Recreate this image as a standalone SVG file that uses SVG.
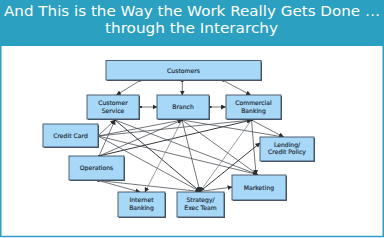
<svg xmlns="http://www.w3.org/2000/svg" width="384" height="238" viewBox="0 0 384 238">
<defs>
<marker id="arr" viewBox="0 0 10 10" refX="9" refY="5" markerUnits="userSpaceOnUse" markerWidth="5" markerHeight="5" orient="auto-start-reverse">
<path d="M0,0 L10,5 L0,10 z" fill="#2a2f35"/>
</marker>
<marker id="dot" viewBox="0 0 4 4" refX="2" refY="2" markerUnits="userSpaceOnUse" markerWidth="2.4" markerHeight="2.4">
<circle cx="2" cy="2" r="2" fill="#2a2f35"/>
</marker>
</defs>
<style>
.title{font-family:"DejaVu Sans",sans-serif;font-size:14px;fill:#ffffff;text-anchor:middle}
.box{fill:#a8d8f8;stroke:#3e5163;stroke-width:0.9}
.sh{fill:#4a5866}
.lbl{font-family:"DejaVu Sans",sans-serif;font-size:6.1px;fill:#1c2833;stroke:#1c2833;stroke-width:0.15;text-anchor:middle}
.c{fill:none;stroke:#43484e;stroke-width:0.75;marker-start:url(#dot);marker-end:url(#arr)}
.d{stroke:#2c3035;stroke-width:0.95}
.l{stroke:#7a7f85}
</style>
<rect x="0" y="0" width="384" height="238" fill="#ffffff"/>
<rect x="0" y="0" width="384" height="46" fill="#2ba0c0"/>
<rect x="0.75" y="45" width="382.5" height="191.5" fill="none" stroke="#2ba0c0" stroke-width="1.5"/>
<text class="title" x="192" y="16" textLength="376" lengthAdjust="spacingAndGlyphs">And This is the Way the Work Really Gets Done …</text>
<text class="title" x="191.5" y="33" textLength="173" lengthAdjust="spacingAndGlyphs">through the Interarchy</text>

<g id="connectors">
<line class="c" x1="140" y1="80.5" x2="116.5" y2="95"/>
<line class="c" x1="182.3" y1="81" x2="182.3" y2="95"/>
<line class="c" x1="223.3" y1="80.5" x2="250.5" y2="95"/>
<line class="c" x1="141" y1="107" x2="157" y2="107"/>
<line class="c" x1="210.5" y1="107" x2="225.5" y2="107"/>
<line class="c" x1="98" y1="136" x2="115" y2="120"/>
<line class="c" x1="99" y1="156" x2="115" y2="120"/>
<line class="c" x1="98" y1="136" x2="182" y2="120"/>
<line class="c" x1="99" y1="156" x2="182" y2="120"/>
<line class="c d" x1="99" y1="156" x2="251.5" y2="120"/>
<line class="c" x1="98" y1="136" x2="251.5" y2="120"/>
<line class="c d" x1="115" y1="120" x2="200" y2="191.5"/>
<line class="c" x1="115" y1="120" x2="257.5" y2="174.5"/>
<line class="c" x1="98" y1="136" x2="200" y2="191.5"/>
<line class="c" x1="98" y1="136" x2="257.5" y2="174.5"/>
<line class="c" x1="98.5" y1="180.5" x2="200" y2="191.5"/>
<line class="c" x1="98.5" y1="180.5" x2="140" y2="192"/>
<line class="c l" x1="182" y1="120" x2="145" y2="192"/>
<line class="c" x1="182" y1="120" x2="200" y2="191.5"/>
<line class="c" x1="182" y1="120" x2="257.5" y2="174.5"/>
<line class="c" x1="182" y1="120" x2="283.5" y2="137"/>
<line class="c" x1="251.5" y1="120" x2="283.5" y2="137"/>
<line class="c l" x1="251.5" y1="120" x2="200" y2="191.5"/>
<line class="c" x1="251.5" y1="120" x2="256" y2="174.5"/>
<line class="c d" x1="200" y1="191.5" x2="260" y2="143"/>
<line class="c" x1="200" y1="191.5" x2="232" y2="187"/>
</g>

<g id="customers"><rect class="sh" x="107" y="61.5" width="155" height="19.5"/><rect class="box" x="106" y="60.5" width="155" height="19.5"/><text class="lbl" x="183.5" y="72.5">Customers</text></g>
<g id="customer-service"><rect class="sh" x="88" y="96" width="52" height="24"/><rect class="box" x="87" y="95" width="52" height="24"/><text class="lbl" x="113" y="104.5">Customer</text><text class="lbl" x="113" y="112.5">Service</text></g>
<g id="branch"><rect class="sh" x="158" y="96" width="52" height="24"/><rect class="box" x="157" y="95" width="52" height="24"/><text class="lbl" x="183" y="109">Branch</text></g>
<g id="commercial-banking"><rect class="sh" x="227" y="96" width="55" height="24"/><rect class="box" x="226" y="95" width="55" height="24"/><text class="lbl" x="253.5" y="104.5">Commercial</text><text class="lbl" x="253.5" y="112.5">Banking</text></g>
<g id="credit-card"><rect class="sh" x="44" y="125" width="55" height="23"/><rect class="box" x="43" y="124" width="55" height="23"/><text class="lbl" x="70.5" y="138">Credit Card</text></g>
<g id="lending"><rect class="sh" x="261" y="138" width="54" height="24"/><rect class="box" x="260" y="137" width="54" height="24"/><text class="lbl" x="287" y="146.5">Lending/</text><text class="lbl" x="287" y="154">Credit Policy</text></g>
<g id="operations"><rect class="sh" x="70" y="157" width="55" height="24"/><rect class="box" x="69" y="156" width="55" height="24"/><text class="lbl" x="96.5" y="170">Operations</text></g>
<g id="marketing"><rect class="sh" x="233" y="176" width="54" height="25"/><rect class="box" x="232" y="175" width="54" height="25"/><text class="lbl" x="259" y="189.5">Marketing</text></g>
<g id="internet-banking"><rect class="sh" x="119" y="193" width="47" height="25"/><rect class="box" x="118" y="192" width="47" height="25"/><text class="lbl" x="141.5" y="202">Internet</text><text class="lbl" x="141.5" y="209.5">Banking</text></g>
<g id="strategy"><rect class="sh" x="178" y="193" width="47" height="25"/><rect class="box" x="177" y="192" width="47" height="25"/><text class="lbl" x="200.5" y="202">Strategy/</text><text class="lbl" x="200.5" y="209.5">Exec Team</text></g>
</svg>
